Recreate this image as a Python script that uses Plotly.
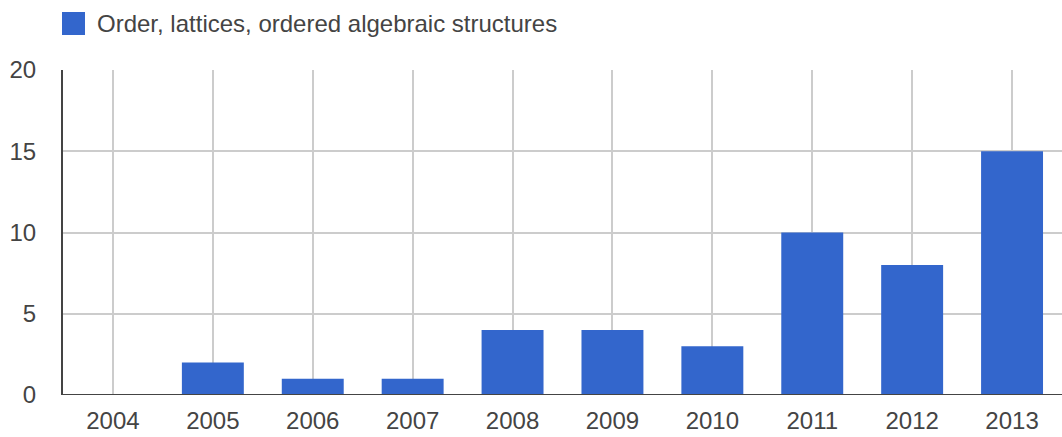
import plotly.graph_objects as go

years = [2004, 2005, 2006, 2007, 2008, 2009, 2010, 2011, 2012, 2013]
counts = [0, 2, 1, 1, 4, 4, 3, 10, 8, 15]
series_name = "Order, lattices, ordered algebraic structures"
y_ticks = [0, 5, 10, 15, 20]

BLUE = "#3366CC"
FONT = "Liberation Sans, Arial, sans-serif"
TXT = "#444444"

fig = go.Figure()
fig.add_trace(go.Bar(
    x=years, y=counts, name=series_name,
    marker=dict(color=BLUE, line=dict(width=0)),
    width=0.62, showlegend=False,
))

fig.update_layout(
    width=1062, height=437,
    margin=dict(l=63, r=0, t=70, b=42),
    paper_bgcolor="white", plot_bgcolor="white",
    font=dict(family=FONT, size=24, color=TXT),
    xaxis=dict(
        range=[2003.5, 2013.5], tickmode="array", tickvals=years,
        ticktext=[str(y) for y in years],
        showgrid=True, gridcolor="#cccccc", gridwidth=1.5,
        zeroline=False, showline=False, ticks="",
        ticklabelstandoff=9,
        tickfont=dict(size=24, color=TXT, family=FONT),
    ),
    yaxis=dict(
        range=[0, 20], tickmode="array", tickvals=y_ticks,
        showgrid=True, gridcolor="#cccccc", gridwidth=1.5,
        zeroline=False, showline=True, linecolor="#444444", linewidth=2,
        ticks="", ticklabelstandoff=20,
        tickfont=dict(size=24, color=TXT, family=FONT),
    ),
)

# baseline at y=0
fig.add_shape(type="line", xref="paper", yref="y", x0=0, x1=1, y0=0, y1=0,
              line=dict(color="#444444", width=2))

# legend: swatch + label
fig.add_shape(type="rect", xref="paper", yref="paper",
              x0=(62-63)/999, x1=(85-63)/999,
              y0=(395-35)/325, y1=(395-12)/325,
              fillcolor=BLUE, line=dict(width=0))
fig.add_annotation(xref="paper", yref="paper", x=(95-63)/999, y=(395-23.5)/325,
                   text=series_name, showarrow=False, xanchor="left", yanchor="middle",
                   font=dict(size=24, color=TXT, family=FONT))

fig.write_html("out.html", config={"displayModeBar": False},
               post_script="document.body.style.margin='0';document.body.style.overflow='hidden';")
